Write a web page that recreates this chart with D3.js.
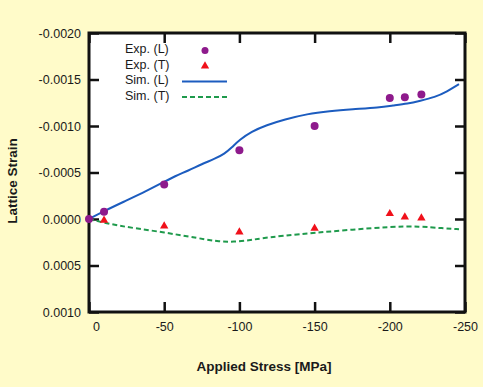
<!DOCTYPE html>
<html>
<head>
<meta charset="utf-8">
<script src="https://cdn.jsdelivr.net/npm/d3@7"></script>
<style>
  body { margin: 0; background: #fffbc9; }
  svg { display: block; }
  text { font-family: "Liberation Sans", Arial, sans-serif; fill: #1a1a1a; }
</style>
</head>
<body>
<div id="chart"></div>
<script>
// experimental points
var expLStress = [0, -10, -50, -100, -150, -200, -210, -221]
var expLStrain = [0, -0.000078, -0.00037, -0.00074, -0.001, -0.0013, -0.00131, -0.00134]
var expTStress = [-10, -50, -100, -150, -200, -210, -221]
var expTStrain = [0.000014, 0.000075, 0.00014, 0.0001, -0.000057, -0.00002, -0.00001]

// simulation curves
var simLStress = [0, -10, -25, -38, -50, -57, -66, -75, -84, -90, -95, -100, -108, -118, -130, -145, -160, -175, -193, -202, -212, -220, -230, -238, -246]
var simLStrain = [0, -0.000086, -0.0002, -0.0003, -0.0004, -0.00046, -0.00052, -0.00059, -0.00065, -0.00070, -0.00077, -0.00085, -0.00094, -0.00101, -0.00107, -0.00113, -0.00116, -0.00118, -0.0012, -0.00122, -0.00124, -0.00127, -0.00131, -0.00137, -0.00145]
var simTStress = [0, -19, -45, -74, -87, -96, -107, -113, -129, -151, -175, -200, -220, -235, -246]
var simTStrain = [0, 0.000075, 0.00013, 0.00021, 0.000245, 0.000245, 0.00023, 0.00021, 0.00018, 0.000147, 0.000115, 0.000083, 0.000078, 0.0001, 0.00011]

var xTicks = [0, -50, -100, -150, -200, -250]
var yTicks = [-0.002, -0.0015, -0.001, -0.0005, 0, 0.0005, 0.001]
var legendLabels = ["Exp. (L)", "Exp. (T)", "Sim. (L)", "Sim. (T)"]

var W = 483, H = 387
var margin = {top: 33, right: 18, bottom: 75, left: 89}
var width = W - margin.left - margin.right
var height = H - margin.top - margin.bottom

var svg = d3.select("#chart").append("svg")
    .attr("width", W)
    .attr("height", H)

var g = svg.append("g")
    .attr("transform", "translate(" + margin.left + "," + margin.top + ")")

var x = d3.scaleLinear().domain([0, -250]).range([0, width])
var y = d3.scaleLinear().domain([-0.002, 0.001]).range([0, height])

g.append("rect")
    .attr("width", width).attr("height", height)
    .attr("fill", "#fff")

// plain hyphen for the minus sign, like the original
function hyph(f) {
  return function(d) { return f(d).replace("\u2212", "-") }
}

// axes with inward ticks
function styleAxis(sel) {
  sel.select(".domain").remove()
  sel.selectAll(".tick line").attr("stroke", "#111").attr("stroke-width", 2.5)
  sel.selectAll(".tick text").style("font-size", "12.5px").attr("fill", "#1a1a1a")
}

g.append("g")
    .attr("transform", "translate(0," + height + ")")
    .call(d3.axisBottom(x).tickValues(xTicks).tickSize(-10).tickPadding(10)
      .tickFormat(hyph(d3.format("d"))))
    .call(styleAxis)
    .call(function(s) {
      s.selectAll(".tick text").attr("dx", function(d) { return d === 0 ? 7 : 0 })
    })

g.append("g")
    .call(d3.axisTop(x).tickValues(xTicks).tickSize(-10).tickFormat(""))
    .call(styleAxis)

g.append("g")
    .call(d3.axisLeft(y).tickValues(yTicks).tickSize(-10).tickPadding(8)
      .tickFormat(hyph(d3.format(".4f"))))
    .call(styleAxis)

g.append("g")
    .attr("transform", "translate(" + width + ",0)")
    .call(d3.axisRight(y).tickValues(yTicks).tickSize(-10).tickFormat(""))
    .call(styleAxis)

g.append("rect")
    .attr("width", width).attr("height", height)
    .attr("fill", "none")
    .attr("stroke", "#111")
    .attr("stroke-width", 3)

// curves
var line = d3.line()
    .x(function(d) { return x(d[0]) })
    .y(function(d) { return y(d[1]) })
    .curve(d3.curveBasis)

g.append("path")
    .datum(d3.zip(simLStress, simLStrain))
    .attr("fill", "none")
    .attr("stroke", "#1c5cbf")
    .attr("stroke-width", 2)
    .attr("d", line)

g.append("path")
    .datum(d3.zip(simTStress, simTStrain))
    .attr("fill", "none")
    .attr("stroke", "#1f9a4c")
    .attr("stroke-width", 2)
    .attr("stroke-dasharray", "5,3")
    .attr("d", line)

// points
g.selectAll(".expL")
  .data(d3.zip(expLStress, expLStrain))
  .enter().append("circle")
    .attr("class", "expL")
    .attr("cx", function(d) { return x(d[0]) })
    .attr("cy", function(d) { return y(d[1]) })
    .attr("r", 4)
    .attr("fill", "#8e1a8c")

var tri = d3.symbol().type(d3.symbolTriangle).size(30)

g.selectAll(".expT")
  .data(d3.zip(expTStress, expTStrain))
  .enter().append("path")
    .attr("class", "expT")
    .attr("transform", function(d) { return "translate(" + x(d[0]) + "," + y(d[1]) + ")" })
    .attr("d", tri)
    .attr("fill", "#f0101a")

// legend
var legend = svg.append("g")
legend.selectAll("text")
  .data(legendLabels)
  .enter().append("text")
    .attr("x", 125)
    .attr("y", function(d, i) { return 53 + i * 15.5 })
    .style("font-size", "12.5px")
    .text(function(d) { return d })

legend.append("circle").attr("cx", 205).attr("cy", 50.5).attr("r", 3.5).attr("fill", "#8e1a8c")
legend.append("path").attr("transform", "translate(205,66)").attr("d", tri).attr("fill", "#f0101a")
legend.append("line").attr("x1", 182).attr("x2", 227).attr("y1", 81.5).attr("y2", 81.5)
    .attr("stroke", "#1c5cbf").attr("stroke-width", 2)
legend.append("line").attr("x1", 182).attr("x2", 227).attr("y1", 97).attr("y2", 97)
    .attr("stroke", "#1f9a4c").attr("stroke-width", 2).attr("stroke-dasharray", "5,3")

// axis titles
svg.append("text")
    .attr("x", 264).attr("y", 371)
    .attr("text-anchor", "middle")
    .style("font-size", "13.5px").style("font-weight", "bold")
    .text("Applied Stress [MPa]")

svg.append("text")
    .attr("transform", "translate(17,181) rotate(-90)")
    .attr("text-anchor", "middle")
    .style("font-size", "13.5px").style("font-weight", "bold")
    .text("Lattice Strain")
</script>
</body>
</html>
